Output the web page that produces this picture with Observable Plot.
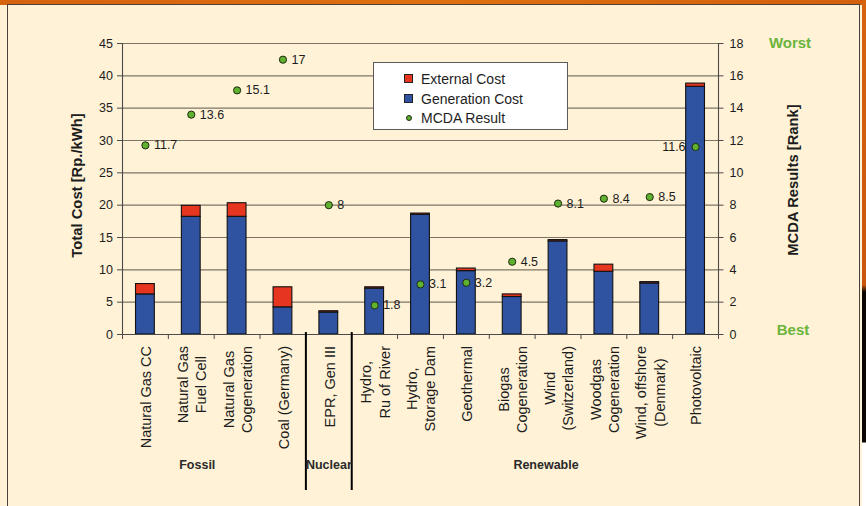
<!DOCTYPE html>
<html>
<head>
<meta charset="utf-8">
<script src="https://cdn.jsdelivr.net/npm/d3@7"></script>
<script src="https://cdn.jsdelivr.net/npm/@observablehq/plot@0.6"></script>
<style>
  html, body { margin: 0; padding: 0; }
  body { width: 866px; height: 506px; position: relative; overflow: hidden; background: #fff2d6; font-family: "Liberation Sans", Arial, Helvetica, sans-serif; }
  .strip-top { position: absolute; left: 0; top: 0; width: 866px; height: 5px; background: linear-gradient(90deg, #d7620e, #e0700f 50%, #d4600c); }
  .strip-right { position: absolute; left: 862px; top: 0; width: 4px; height: 506px;
    background: linear-gradient(180deg, #d7620e 0, #c9560c 285px, #0b0503 292px, #0b0503 442px, #ffffff 443px); }
  .panel { position: absolute; left: 7px; top: 4px; width: 853px; height: 520px; border: 1.5px solid #4b423c; background: #fff2d6; box-sizing: border-box; }
  #chart { position: absolute; left: 0; top: 0; }
  .legend { position: absolute; left: 373px; top: 62px; width: 195px; height: 68px; box-sizing: border-box;
    background: #ffffff; border: 1px solid #5a5a5a; font-size: 14px; color: #1e1e1e; }
  .legend .item { position: absolute; left: 30px; height: 18px; line-height: 18px; white-space: nowrap; }
  .legend .sw { position: absolute; left: 0; top: 4px; width: 9px; height: 9px; box-sizing: border-box; border: 1px solid #222; }
  .legend .dot { position: absolute; left: 1.5px; top: 5.5px; width: 6px; height: 6px; border-radius: 50%; box-sizing: border-box; border: 1px solid #1d2a10; }
  .legend .lbl { position: absolute; left: 17px; top: 0; }
</style>
</head>
<body>
<div class="strip-top"></div>
<div class="strip-right"></div>
<div class="panel"></div>
<div id="chart"></div>
<div class="legend" id="legend"></div>
<script>
// Electricity technologies and their cost / MCDA ranking
const categories = [
  "Natural Gas CC",
  "Natural Gas\nFuel Cell",
  "Natural Gas\nCogeneration",
  "Coal (Germany)",
  "EPR, Gen III",
  "Hydro,\nRu of River",
  "Hydro,\nStorage Dam",
  "Geothermal",
  "Biogas\nCogeneration",
  "Wind\n(Switzerland)",
  "Woodgas\nCogeneration",
  "Wind, offshore\n(Denmark)",
  "Photovoltaic"
];
// Rp./kWh
const generationCost = [6.2, 18.2, 18.2, 4.2, 3.4, 7.1, 18.5, 9.8, 5.8, 14.4, 9.7, 7.9, 38.3];
const externalCost   = [1.6, 1.7, 2.1, 3.1, 0.2, 0.2, 0.2, 0.4, 0.4, 0.2, 1.1, 0.2, 0.5];
// MCDA rank (right axis)
const mcdaResult = [11.7, 13.6, 15.1, 17, 8, 1.8, 3.1, 3.2, 4.5, 8.1, 8.4, 8.5, 11.6];

const costTicks = [0, 5, 10, 15, 20, 25, 30, 35, 40, 45];
const rankMax = 18;
const costMax = 45;
const groups = [
  {name: "Fossil", at: "Natural Gas\nFuel Cell", dx: 6},
  {name: "Nuclear", at: "EPR, Gen III", dx: 0},
  {name: "Renewable", at: "Wind\n(Switzerland)", dx: -12}
];
const seriesNames = ["External Cost", "Generation Cost", "MCDA Result"];

const RED = "#e6361f";
const BLUE = "#2f53a1";
const GREEN = "#5fb12f";
const LABEL_GREEN = "#6bb43c";
const GRID = "#7c7566";
const AXIS = "#4a4a4a";
const INK = "#1c1c1c";
const FONT = "'Liberation Sans', Arial, Helvetica, sans-serif";

// rank values are drawn on the cost scale (45 ↔ 18)
const ratio = costMax / rankMax;

const W = 866, H = 506;
const ml = 122, mr = 148, mt = 43, mb = 172;
const frameH = H - mt - mb;
const step = (W - ml - mr) / categories.length;

const barRows = [
  ...categories.map((c, i) => ({category: c, type: "Generation Cost", value: generationCost[i]})),
  ...categories.map((c, i) => ({category: c, type: "External Cost", value: externalCost[i]}))
];
const mcdaRows = categories.map((c, i) => ({category: c, rank: mcdaResult[i]}));

// width of the longest line of each category label, to centre the rotated block under the axis
const catFont = 14.5;
const ctx = document.createElement("canvas").getContext("2d");
ctx.font = `${catFont}px 'Liberation Sans', Arial, sans-serif`;
const labelMarks = categories.map(c => {
  const maxW = d3.max(c.split("\n"), s => ctx.measureText(s).width);
  return Plot.text([c], {
    x: d => d, text: d => d, rotate: -90, frameAnchor: "bottom",
    dy: 11.5 + maxW / 2, textAnchor: "middle", lineAnchor: "middle", lineHeight: 1.25,
    fontSize: catFont, fill: INK
  });
});

const chart = Plot.plot({
  width: W, height: H,
  marginLeft: ml, marginRight: mr, marginTop: mt, marginBottom: mb,
  style: {background: "transparent", fontFamily: FONT, fontSize: "12.5px", color: INK, overflow: "visible"},
  x: {domain: categories, paddingInner: 0.59, paddingOuter: 0.295, round: false, axis: null},
  y: {domain: [0, costMax], axis: null},
  color: {domain: ["Generation Cost", "External Cost"], range: [BLUE, RED]},
  marks: [
    // horizontal gridlines
    Plot.ruleY(costTicks.filter(d => d > 0), {stroke: GRID, strokeWidth: 1.2}),
    // stacked cost bars
    Plot.barY(barRows, {x: "category", y: "value", fill: "type", stroke: "#111", strokeWidth: 1.1}),
    // axis lines
    Plot.ruleX([categories[0]], {dx: -step / 2, stroke: AXIS, strokeWidth: 1.1}),
    Plot.ruleX([categories[categories.length - 1]], {dx: step / 2, stroke: AXIS, strokeWidth: 1.1}),
    Plot.ruleY([0], {stroke: AXIS, strokeWidth: 1.2}),
    // category boundary ticks
    Plot.ruleX(categories, {dx: -step / 2, insetTop: frameH, insetBottom: -5, stroke: AXIS}),
    Plot.ruleX([categories[categories.length - 1]], {dx: step / 2, insetTop: frameH, insetBottom: -5, stroke: AXIS}),
    // left (cost) and right (rank) axes
    Plot.axisY({anchor: "left", ticks: costTicks, tickSize: 5, tickPadding: 4.5, label: null, stroke: AXIS, fill: INK}),
    Plot.axisY({anchor: "right", ticks: costTicks, tickFormat: d => d / ratio, tickSize: 4.5, tickPadding: 6.5, label: null, stroke: AXIS, fill: INK}),
    // MCDA results
    Plot.dot(mcdaRows, {x: "category", y: d => d.rank * ratio, r: 3.6, fill: GREEN, stroke: "#1d2a10", strokeWidth: 1}),
    Plot.text(mcdaRows.slice(0, -1), {x: "category", y: d => d.rank * ratio, text: d => String(d.rank), dx: 8.5, textAnchor: "start", fontSize: 12.5, fill: INK}),
    Plot.text(mcdaRows.slice(-1), {x: "category", y: d => d.rank * ratio, text: d => String(d.rank), dx: -10, textAnchor: "end", fontSize: 12.5, fill: INK}),
    // category labels
    ...labelMarks,
    // group separators around nuclear
    Plot.ruleX(["EPR, Gen III"], {dx: -step / 2, insetTop: frameH - 2, insetBottom: -156, stroke: "#000", strokeWidth: 2}),
    Plot.ruleX(["EPR, Gen III"], {dx: step / 2, insetTop: frameH - 2, insetBottom: -156, stroke: "#000", strokeWidth: 2}),
    // group labels
    ...groups.map(g => Plot.text([g], {x: d => d.at, text: d => d.name, frameAnchor: "bottom", dy: 130, dx: g.dx,
      textAnchor: "middle", lineAnchor: "middle", fontSize: 12.5, fontWeight: "bold", fill: "#2a2a2a"})),
    // axis titles
    Plot.text(["Total Cost [Rp./kWh]"], {frameAnchor: "left", dx: -45.5, dy: -3.5, rotate: -90, textAnchor: "middle", lineAnchor: "middle", fontSize: 14.8, fontWeight: "bold", fill: INK}),
    Plot.text(["MCDA Results [Rank]"], {frameAnchor: "right", dx: 75, dy: -9, rotate: -90, textAnchor: "middle", lineAnchor: "middle", fontSize: 14.8, fontWeight: "bold", fill: INK}),
    Plot.text(["Worst"], {frameAnchor: "top-right", dx: 71.5, dy: 0, textAnchor: "middle", lineAnchor: "middle", fontSize: 15, fontWeight: "bold", fill: LABEL_GREEN}),
    Plot.text(["Best"], {frameAnchor: "bottom-right", dx: 74.5, dy: -4, textAnchor: "middle", lineAnchor: "middle", fontSize: 15, fontWeight: "bold", fill: LABEL_GREEN})
  ]
});
document.getElementById("chart").append(chart);

// legend box
const legend = document.getElementById("legend");
const swatch = {"External Cost": `<span class="sw" style="background:${RED}"></span>`,
                "Generation Cost": `<span class="sw" style="background:${BLUE}"></span>`,
                "MCDA Result": `<span class="dot" style="background:${GREEN}"></span>`};
seriesNames.forEach((name, i) => {
  const item = document.createElement("div");
  item.className = "item";
  item.style.top = (7 + i * 19.5) + "px";
  item.innerHTML = swatch[name] + `<span class="lbl">${name}</span>`;
  legend.append(item);
});
</script>
</body>
</html>
